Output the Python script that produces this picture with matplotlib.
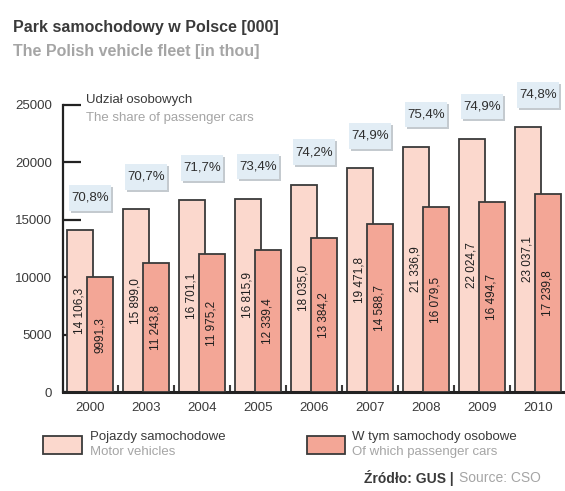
import numpy as np
import matplotlib
matplotlib.use('Agg')
import matplotlib.pyplot as plt
from matplotlib.patches import Rectangle
from matplotlib.transforms import offset_copy

# ----------------------------------------------------------------
# data (thousands of vehicles)

years = ['2000', '2003', '2004', '2005', '2006', '2007', '2008', '2009', '2010']
motor = [14106.3, 15899.0, 16701.1, 16815.9, 18035.0, 19471.8, 21336.9, 22024.7, 23037.1]
cars = [9991.3, 11243.8, 11975.2, 12339.4, 13384.2, 14588.7, 16079.5, 16494.7, 17239.8]
share = ['70,8%', '70,7%', '71,7%', '73,4%', '74,2%', '74,9%', '75,4%', '74,9%', '74,8%']
yticks = [0, 5000, 10000, 15000, 20000, 25000]

# ----------------------------------------------------------------
# style

light = '#fbd8cd'
dark = '#f3a696'
edge = '#3a3a3a'
txt = '#3a3a3a'
grey = '#a5a5a5'
boxc = '#e2edf5'
plt.rcParams['font.family'] = ['Liberation Sans', 'DejaVu Sans']

def fmt(v):
    s = '%.1f' % v
    a, b = s.split('.')
    if len(a) > 4:
        a = a[:-3] + ' ' + a[-3:]
    return a + ',' + b

fig = plt.figure(figsize=(5.65, 4.91), dpi=100)
fig.set_facecolor('white')
ax = fig.add_axes([0.1115, 0.2016, 0.888, 0.5855])

x = np.arange(len(years))
off = 0.18
w = 0.46
ax.bar(x - off, motor, w, color=light, edgecolor=edge, lw=1.3, zorder=2)
ax.bar(x + off, cars, w, color=dark, edgecolor=edge, lw=1.3, zorder=3)

# share boxes: 42x26 px
bw = 0.76
bh = 2250
sh = offset_copy(ax.transData, fig=fig, x=2, y=-2, units='dots')
for i in range(len(years)):
    ax.text(x[i] - off, motor[i] / 2, fmt(motor[i]), rotation=90, ha='center',
            va='center', fontsize=8.5, color='#1e1e1e', zorder=4)
    ax.text(x[i] + off, cars[i] / 2, fmt(cars[i]), rotation=90, ha='center',
            va='center', fontsize=8.5, color='#1e1e1e', zorder=4)
    yb = motor[i] + 2800
    ax.add_patch(Rectangle((x[i] - bw / 2, yb - bh / 2), bw, bh, transform=sh,
                           fc='#c4cacf', ec='none', clip_on=False, zorder=1))
    ax.add_patch(Rectangle((x[i] - bw / 2, yb - bh / 2), bw, bh,
                           fc=boxc, ec='none', clip_on=False, zorder=1))
    ax.text(x[i], yb, share[i], ha='center', va='center', fontsize=9.5,
            color='#2e2e2e', clip_on=False, zorder=5)

ax.set_xlim(-0.48, 8.48)
ax.set_ylim(0, 25000)
ax.set_xticks(x)
ax.set_xticklabels(years, fontsize=9.5, color=txt)
ax.set_xticks(x[:-1] + 0.5, minor=True)
ax.tick_params(axis='x', which='major', length=0, pad=7)
ax.tick_params(axis='x', which='minor', direction='in', length=5, width=1.5, color=edge)
ax.set_yticks(yticks)
ax.set_yticklabels([str(v) for v in yticks], fontsize=9.5, color=txt)
ax.tick_params(axis='y', direction='in', length=13, width=1.6, color='#222222', pad=8)

for s in ['top', 'right']:
    ax.spines[s].set_visible(False)
ax.spines['left'].set_linewidth(1.6)
ax.spines['left'].set_color('#222222')
ax.spines['bottom'].set_linewidth(2.2)
ax.spines['bottom'].set_color('#222222')
ax.patch.set_alpha(0)

# ----------------------------------------------------------------
# texts

fig.text(0.023, 0.945, 'Park samochodowy w Polsce [000]', fontsize=11.5,
         fontweight='bold', color=txt, va='center')
fig.text(0.023, 0.896, 'The Polish vehicle fleet [in thou]', fontsize=11.5,
         fontweight='bold', color=grey, va='center')
fig.text(0.153, 0.796, 'Udział osobowych', fontsize=9.5, color=txt, va='center')
fig.text(0.153, 0.760, 'The share of passenger cars', fontsize=9.5, color=grey, va='center')

# legend
fig.patches.append(Rectangle((0.076, 0.075), 0.07, 0.038, transform=fig.transFigure,
                             fc=light, ec=edge, lw=1.3))
fig.text(0.16, 0.109, 'Pojazdy samochodowe', fontsize=9.5, color=txt, va='center')
fig.text(0.16, 0.079, 'Motor vehicles', fontsize=9.5, color=grey, va='center')
fig.patches.append(Rectangle((0.543, 0.075), 0.068, 0.038, transform=fig.transFigure,
                             fc=dark, ec=edge, lw=1.3))
fig.text(0.623, 0.109, 'W tym samochody osobowe', fontsize=9.5, color=txt, va='center')
fig.text(0.623, 0.079, 'Of which passenger cars', fontsize=9.5, color=grey, va='center')

fig.text(0.812, 0.027, 'Source: CSO', fontsize=10, color=grey, va='center', ha='left')
fig.text(0.810, 0.027, 'Źródło: GUS | ', fontsize=10, fontweight='bold', color=txt,
         va='center', ha='right')

fig.savefig('out.png', dpi=100, facecolor='white')
